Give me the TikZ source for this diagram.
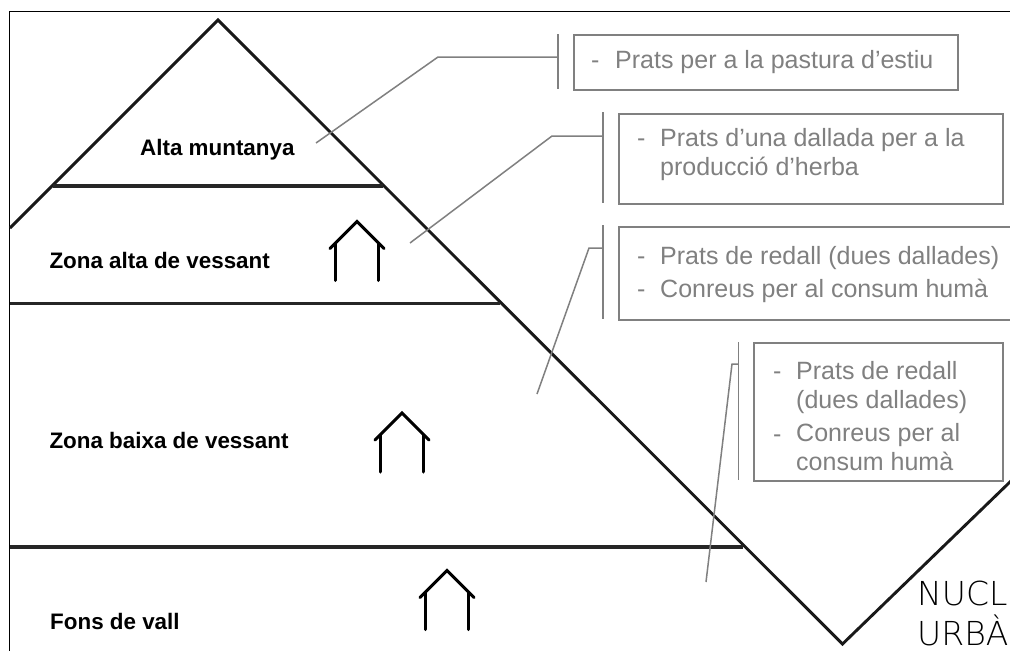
\documentclass[tikz,border=0pt]{standalone}
\usepackage{fontspec}
\setmainfont{Liberation Sans}
\newfontfamily\thinfont{DejaVu Sans ExtraLight}
\definecolor{leadgray}{HTML}{808080}
\begin{document}
\begin{tikzpicture}[
  x=1pt, y=-1pt,
  slope/.style = {draw=black!90, line width=2.9pt},
  terrace/.style = {draw=black!85, line width=3.4pt},
  frame/.style = {draw=black, line width=1.5pt},
  leader/.style = {draw=leadgray, line width=1.5pt},
  box/.style = {draw=leadgray, line width=1.9pt, anchor=north west, inner sep=0pt},
  zone/.style = {anchor=base west, inner sep=0pt, font=\fontsize{22.4}{26}\selectfont\bfseries},
  use/.style = {anchor=base west, inner sep=0pt, align=left, text=leadgray,
    font=\fontsize{25}{29}\selectfont},
  urban/.style = {anchor=base west, inner sep=0pt, font=\fontsize{33}{40}\thinfont},
  house/.pic = {
    \draw[line width=3pt, line cap=round, line join=miter] (-27,27) -- (0,0) -- (27,27);
    \draw[line width=3pt, line cap=round] (-21.5,22) -- (-21.5,59);
    \draw[line width=3pt, line cap=round] (21.5,22) -- (21.5,59);
  }]
\clip (0,0) rectangle (1010,651);
\fill[white] (0,0) rectangle (1010,651);
\coordinate (edgetop) at (9.5,11.5);
\coordinate (edgeright) at (1010,11.5);
\coordinate (edgebottom) at (9.5,651);
\draw[frame] (edgeright) -- (edgetop) -- (edgebottom);
\coordinate (slopeleft) at (10,228);
\coordinate (peak) at (218,20);
\coordinate (vee) at (842.5,644);
\coordinate (sloperight) at (1012,480);
\draw[slope] (slopeleft) -- (peak) -- (vee) -- (sloperight);
\coordinate (alta1) at (53,186);
\coordinate (alta2) at (383,186);
\coordinate (mig1) at (10,303.5);
\coordinate (mig2) at (500,303.5);
\coordinate (fons1) at (10,547);
\coordinate (fons2) at (743,547);
\draw[terrace] (alta1) -- (alta2);
\draw[terrace] (mig1) -- (mig2);
\draw[terrace] (fons1) -- (fons2);
\pic at (357,221.5) {house};
\pic at (402,413) {house};
\pic at (447,570.5) {house};
\node[zone] (muntanya) at (140,155) {Alta muntanya};
\node[zone] (zonaalta) at (49.3,268) {Zona alta de vessant};
\node[zone] (zonabaixa) at (49.3,448) {Zona baixa de vessant};
\node[zone] (fonsvall) at (50,629) {Fons de vall};
\node[box, minimum width=384pt, minimum height=55pt] (box1) at (573,34) {};
\node[box, minimum width=384pt, minimum height=90pt] (box2) at (618,113) {};
\node[box, minimum width=420pt, minimum height=93pt] (box3) at (618,226) {};
\node[box, minimum width=249pt, minimum height=138pt] (box4) at (753,342) {};
\node[use] (dash1) at (591,68) {-};
\node[use] (text1) at (615,68) {Prats per a la pastura d’estiu};
\node[use] (dash2) at (637,146) {-};
\node[use] (text2) at (660,175) {Prats d’una dallada per a la\\producció d’herba};
\node[use] (dash3a) at (637,264) {-};
\node[use] (text3a) at (660,264) {Prats de redall (dues dallades)};
\node[use] (dash3b) at (637,297) {-};
\node[use] (text3b) at (660,297) {Conreus per al consum humà};
\node[use] (dash4a) at (773,379) {-};
\node[use] (text4a) at (796,408) {Prats de redall\\(dues dallades)};
\node[use] (dash4b) at (773,442) {-};
\node[use] (text4b) at (796,470) {Conreus per al\\consum humà};
\coordinate (bar1a) at (558,34);
\coordinate (bar1b) at (558,89);
\coordinate (bar2a) at (603,112);
\coordinate (bar2b) at (603,203);
\coordinate (bar3a) at (603,225);
\coordinate (bar3b) at (603,319);
\coordinate (bar4a) at (738.5,342);
\coordinate (bar4b) at (738.5,480);
\draw[leader] (bar1a) -- (bar1b);
\draw[leader] (bar2a) -- (bar2b);
\draw[leader] (bar3a) -- (bar3b);
\draw[leader] (bar4a) -- (bar4b);
\coordinate (foot1) at (316,143);
\coordinate (knee1) at (438,57);
\coordinate (foot2) at (410,243);
\coordinate (knee2) at (552,136);
\coordinate (foot3) at (537,394);
\coordinate (knee3) at (589,248);
\coordinate (foot4) at (706,582);
\coordinate (knee4) at (732,364);
\draw[leader] (foot1) -- (knee1) -- (bar1a |- knee1);
\draw[leader] (foot2) -- (knee2) -- (bar2a |- knee2);
\draw[leader] (foot3) -- (knee3) -- (bar3a |- knee3);
\draw[leader] (foot4) -- (knee4) -- (bar4a |- knee4);
\node[urban] (nucli) at (917,605) {NUCL};
\node[urban] (urba) at (917,645) {URBÀ};
\end{tikzpicture}
\end{document}
